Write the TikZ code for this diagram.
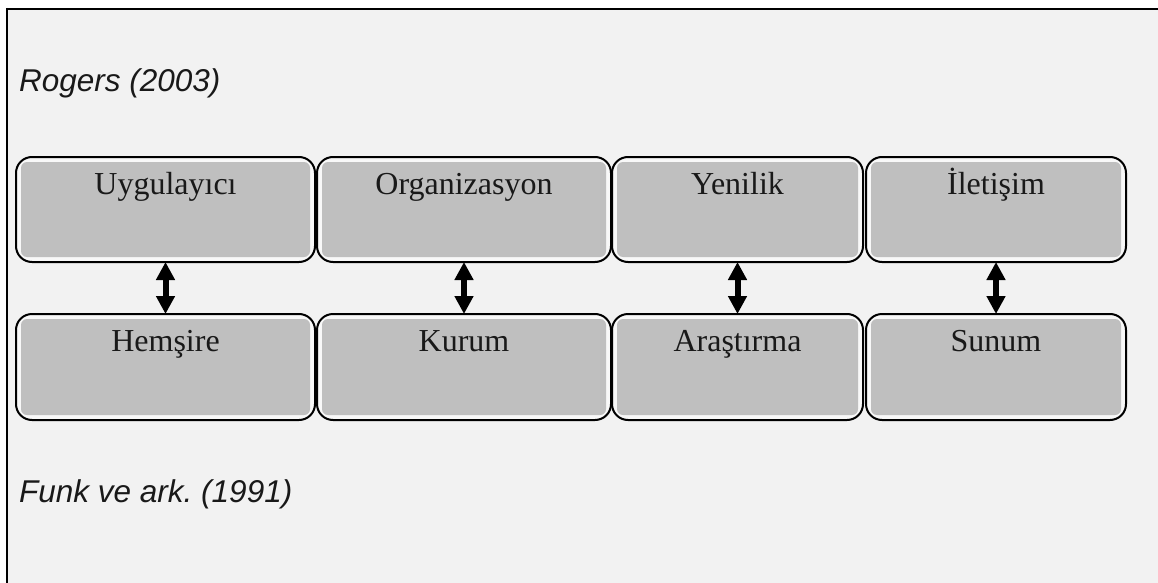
\documentclass[tikz,border=0pt]{standalone}
\usepackage{fontspec}
\setmainfont{Liberation Serif}
\newfontfamily\lsans{Liberation Sans}
\usetikzlibrary{arrows.meta}
\frenchspacing
\definecolor{bgc}{HTML}{F2F2F2}
\definecolor{boxc}{HTML}{BFBFBF}
\definecolor{rimc}{HTML}{F8F8F8}
\tikzset{
  cell/.style={draw=black, line width=2pt, rounded corners=16pt, fill=rimc,
    inner sep=0pt, outer sep=0pt,
    path picture={\fill[boxc, rounded corners=6pt]
      ([shift={(5pt,-5pt)}]path picture bounding box.north west) rectangle
      ([shift={(-5pt,5pt)}]path picture bounding box.south east);}},
  lbl/.style={anchor=base, inner sep=0pt, font=\fontsize{32}{38}\selectfont, text=black!90},
  ref/.style={anchor=base west, inner sep=0pt, font=\lsans\itshape\fontsize{31.5}{36}\selectfont, text=black!90},
  dar/.style={line width=6pt, {Triangle[length=18pt,width=18pt]}-{Triangle[length=18pt,width=18pt]}},
}
\begin{document}
\begin{tikzpicture}[x=1pt,y=1pt]
\useasboundingbox (0,0) rectangle (1158,-583);
\fill[white] (0,0) rectangle (1158,-583);
\fill[bgc] (7,-9) rectangle (1158,-583);
\draw[line width=2pt] (6,-9) -- (1158,-9);
\draw[line width=2.7pt] (7,-8) -- (7,-583);

\node[ref] (rog) at (19,-92) {Rogers (2003)};
\node[ref] (funk) at (19,-502) {Funk ve ark. (1991)};

% top row
\node[cell, minimum width=299pt, minimum height=105pt] (a1) at (165.5,-209.5) {};
\node[cell, minimum width=294pt, minimum height=105pt] (a2) at (464,-209.5) {};
\node[cell, minimum width=251pt, minimum height=105pt] (a3) at (737.5,-209.5) {};
\node[cell, minimum width=260pt, minimum height=105pt] (a4) at (996,-209.5) {};
% bottom row
\node[cell, minimum width=299pt, minimum height=106pt] (b1) at (165.5,-367) {};
\node[cell, minimum width=294pt, minimum height=106pt] (b2) at (464,-367) {};
\node[cell, minimum width=251pt, minimum height=106pt] (b3) at (737.5,-367) {};
\node[cell, minimum width=260pt, minimum height=106pt] (b4) at (996,-367) {};

\node[lbl] (ta1) at (165.5,-194) {Uygulayıcı};
\node[lbl] (ta2) at (464,-194) {Organizasyon};
\node[lbl] (ta3) at (737.5,-194) {Yenilik};
\node[lbl] (ta4) at (996,-194) {İletişim};
\node[lbl] (tb1) at (165.5,-351) {Hemşire};
\node[lbl] (tb2) at (464,-351) {Kurum};
\node[lbl] (tb3) at (737.5,-351) {Araştırma};
\node[lbl] (tb4) at (996,-351) {Sunum};

\draw[dar] (a1.south) -- (b1.north);
\draw[dar] (a2.south) -- (b2.north);
\draw[dar] (a3.south) -- (b3.north);
\draw[dar] (a4.south) -- (b4.north);
\end{tikzpicture}
\end{document}
